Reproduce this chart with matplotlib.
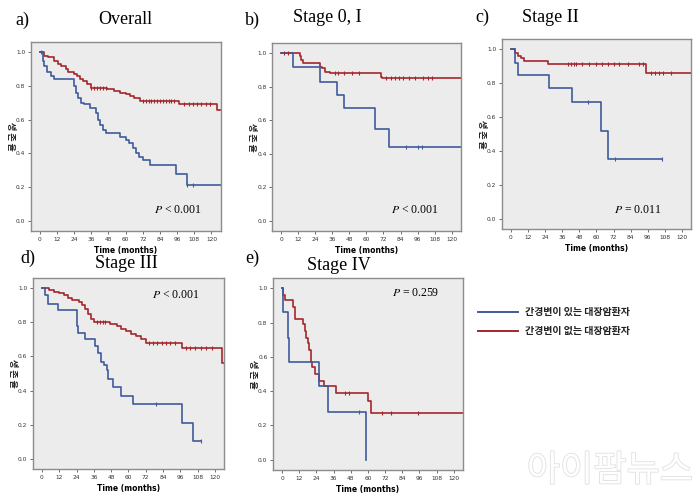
import numpy as np
import matplotlib
matplotlib.use('Agg')
import matplotlib.pyplot as plt
import matplotlib.patheffects as pe

plt.rcParams['font.family'] = ['DejaVu Sans', 'Noto Sans CJK KR']
plt.rcParams['mathtext.fontset'] = 'stix'

BLUE = '#3f5b9b'
RED = '#a3262b'
BG = '#ececec'
FRAME = '#8c8c8c'

# Kaplan-Meier curves: event times / survival, last entry = end of follow-up
a_blue_t = [0, 2, 3, 5, 8, 10, 24, 25, 27, 29, 31, 35, 39, 41, 42, 44, 46, 48, 56, 60, 62, 65, 67, 69, 72, 77, 95, 103, 127]
a_blue_s = [1.0, 0.95, 0.92, 0.88, 0.86, 0.84, 0.80, 0.76, 0.73, 0.70, 0.69, 0.67, 0.64, 0.60, 0.57, 0.54, 0.52, 0.52, 0.50, 0.48, 0.46, 0.43, 0.40, 0.38, 0.36, 0.33, 0.28, 0.21, 0.21]
a_red_t = [0, 3, 6, 10, 13, 15, 18, 20, 24, 26, 28, 30, 33, 36, 47, 52, 56, 60, 63, 66, 70, 97, 100, 124, 127]
a_red_s = [1.0, 0.98, 0.97, 0.95, 0.93, 0.92, 0.90, 0.88, 0.87, 0.86, 0.84, 0.83, 0.81, 0.79, 0.78, 0.77, 0.76, 0.75, 0.74, 0.73, 0.71, 0.69, 0.69, 0.66, 0.66]
a_blue_cens = [1, 103, 107]
a_red_cens = [36, 38, 40, 42, 44, 46, 72, 74, 76, 78, 80, 82, 84, 86, 88, 90, 92, 94, 101, 104, 107, 110, 113, 116, 119]

b_blue_t = [0, 8, 27, 39, 44, 66, 76, 127]
b_blue_s = [1.0, 0.92, 0.83, 0.75, 0.67, 0.55, 0.44, 0.44]
b_red_t = [0, 13, 14, 15, 17, 27, 29, 31, 34, 70, 71, 127]
b_red_s = [1.0, 0.98, 0.96, 0.94, 0.94, 0.92, 0.91, 0.89, 0.88, 0.86, 0.85, 0.85]
b_blue_cens = [88, 96, 99]
b_red_cens = [2, 5, 38, 40, 44, 50, 55, 74, 77, 80, 83, 86, 90, 94, 100, 103, 106]

c_blue_t = [0, 3, 5, 27, 43, 63, 68, 106]
c_blue_s = [1.0, 0.92, 0.85, 0.77, 0.69, 0.52, 0.35, 0.35]
c_red_t = [0, 3, 5, 7, 9, 26, 95, 127]
c_red_s = [1.0, 0.98, 0.96, 0.95, 0.93, 0.91, 0.86, 0.86]
c_blue_cens = [54, 73, 106]
c_red_cens = [40, 42, 44, 46, 50, 55, 60, 64, 68, 72, 76, 82, 90, 93, 98, 101, 104, 107, 112]

d_blue_t = [0, 2, 4, 11, 24, 25, 30, 37, 39, 41, 43, 45, 46, 49, 55, 63, 97, 105, 110]
d_blue_s = [1.0, 0.96, 0.91, 0.87, 0.78, 0.74, 0.70, 0.66, 0.62, 0.57, 0.55, 0.52, 0.47, 0.42, 0.37, 0.32, 0.21, 0.105, 0.105]
d_red_t = [0, 5, 8, 12, 15, 18, 21, 26, 28, 30, 32, 34, 36, 47, 52, 55, 58, 62, 65, 69, 72, 97, 125, 127]
d_red_s = [1.0, 0.99, 0.98, 0.97, 0.96, 0.94, 0.93, 0.92, 0.90, 0.88, 0.85, 0.82, 0.80, 0.79, 0.78, 0.76, 0.75, 0.73, 0.72, 0.70, 0.68, 0.65, 0.56, 0.56]
d_blue_cens = [79, 110]
d_red_cens = [38, 40, 42, 44, 74, 77, 80, 83, 86, 89, 92, 100, 103, 106, 110, 114, 118]

e_blue_t = [0, 1, 4, 5, 26, 32, 59, 59.01]
e_blue_s = [1.0, 0.86, 0.71, 0.57, 0.43, 0.28, 0.0, 0.0]
e_red_t = [0, 1, 2, 8, 9, 14, 15, 16, 17, 18, 19, 20, 21, 23, 26, 29, 38, 60, 62, 127]
e_red_s = [1.0, 0.96, 0.93, 0.89, 0.82, 0.82, 0.79, 0.75, 0.71, 0.68, 0.64, 0.57, 0.54, 0.50, 0.46, 0.43, 0.39, 0.34, 0.27, 0.27]
e_blue_cens = [54]
e_red_cens = [44, 47, 70, 76, 95]

panels = [
    ('a)', 'Overall', r'$P$ < 0.001', a_blue_t, a_blue_s, a_red_t, a_red_s, a_blue_cens, a_red_cens),
    ('b)', 'Stage 0, I', r'$P$ < 0.001', b_blue_t, b_blue_s, b_red_t, b_red_s, b_blue_cens, b_red_cens),
    ('c)', 'Stage II', r'$P$ = 0.011', c_blue_t, c_blue_s, c_red_t, c_red_s, c_blue_cens, c_red_cens),
    ('d)', 'Stage III', r'$P$ < 0.001', d_blue_t, d_blue_s, d_red_t, d_red_s, d_blue_cens, d_red_cens),
    ('e)', 'Stage IV', r'$P$ = 0.259', e_blue_t, e_blue_s, e_red_t, e_red_s, e_blue_cens, e_red_cens),
]

# axes rectangles (fig fraction) plus label / title / p-value anchors (pixels)
boxes = [
    [0.044, 0.538, 0.271, 0.378],
    [0.389, 0.538, 0.269, 0.376],
    [0.717, 0.542, 0.270, 0.380],
    [0.047, 0.062, 0.273, 0.382],
    [0.390, 0.060, 0.271, 0.384],
]
letter_xy = [(22, 20), (252, 20), (482, 17), (28, 258), (252, 258)]
title_xy = [(125, 20), (327, 18), (550, 17), (126, 263), (339, 265)]
p_xy = [(178, 210), (415, 210), (638, 210), (176, 295), (415, 293)]

W, H = 700, 500
fig = plt.figure(figsize=(7, 5), dpi=100)
serif = ['Liberation Serif', 'DejaVu Serif']
kr = ['Noto Sans CJK KR', 'DejaVu Sans']


def surv_at(t_arr, s_arr, t):
    i = np.searchsorted(t_arr, t, side='right') - 1
    return s_arr[max(i, 0)]


for k, (let, title, ptxt, bt, bs, rt, rs, bc, rc) in enumerate(panels):
    ax = fig.add_axes(boxes[k])
    ax.set_facecolor(BG)
    for sp in ax.spines.values():
        sp.set_color(FRAME)
        sp.set_linewidth(1.0)

    ax.step(rt, rs, where='post', color=RED, lw=1.2)
    ax.step(bt, bs, where='post', color=BLUE, lw=1.2)
    ax.plot(rc, [surv_at(rt, rs, t) for t in rc], ls='none', marker='|',
            ms=3, mew=0.8, color=RED)
    ax.plot(bc, [surv_at(bt, bs, t) for t in bc], ls='none', marker='|',
            ms=3, mew=0.8, color=BLUE)

    ax.set_xlim(-6.3, 126.3)
    ax.set_ylim(-0.06, 1.06)
    ax.set_xticks(range(0, 121, 12))
    ax.set_yticks(np.arange(0, 1.01, 0.2))
    ax.set_yticklabels(['0.0', '0.2', '0.4', '0.6', '0.8', '1.0'])
    ax.tick_params(labelsize=4.2, length=2, width=0.5, colors='#333333', pad=2)
    ax.set_xlabel('Time (months)', fontsize=5.5, fontweight='bold', labelpad=3)
    ax.set_ylabel('생 존 율', fontsize=6.5, fontweight='bold', rotation=270,
                  family=kr, va='top', color='#222222')
    ax.yaxis.set_label_coords(-0.085, 0.5)

    lx, ly = letter_xy[k]
    fig.text(lx / W, 1 - ly / H, let, fontsize=13, family=serif, ha='center', va='center')
    tx, ty = title_xy[k]
    fig.text(tx / W, 1 - ty / H, title, fontsize=13, family=serif, ha='center', va='center')
    px, py = p_xy[k]
    fig.text(px / W, 1 - py / H, ptxt, fontsize=8.5, family=serif, ha='center', va='center')

# legend
fig.add_artist(plt.Line2D([478 / W, 518 / W], [1 - 312 / H, 1 - 312 / H], color=BLUE, lw=1.4))
fig.add_artist(plt.Line2D([478 / W, 518 / W], [1 - 331 / H, 1 - 331 / H], color=RED, lw=1.4))
fig.text(525 / W, 1 - 312 / H, '간경변이 있는 대장암환자', fontsize=7.2, fontweight='bold',
         family=kr, va='center', color='#222222')
fig.text(525 / W, 1 - 331 / H, '간경변이 없는 대장암환자', fontsize=7.2, fontweight='bold',
         family=kr, va='center', color='#222222')

# watermark
fig.text(610 / W, 1 - 471 / H, '아이팜뉴스', fontsize=26, family=kr, ha='center',
         va='center', color='white',
         path_effects=[pe.withStroke(linewidth=1.2, foreground='#e0e0e0')])

fig.savefig('out.png', dpi=100)
print('Done')
